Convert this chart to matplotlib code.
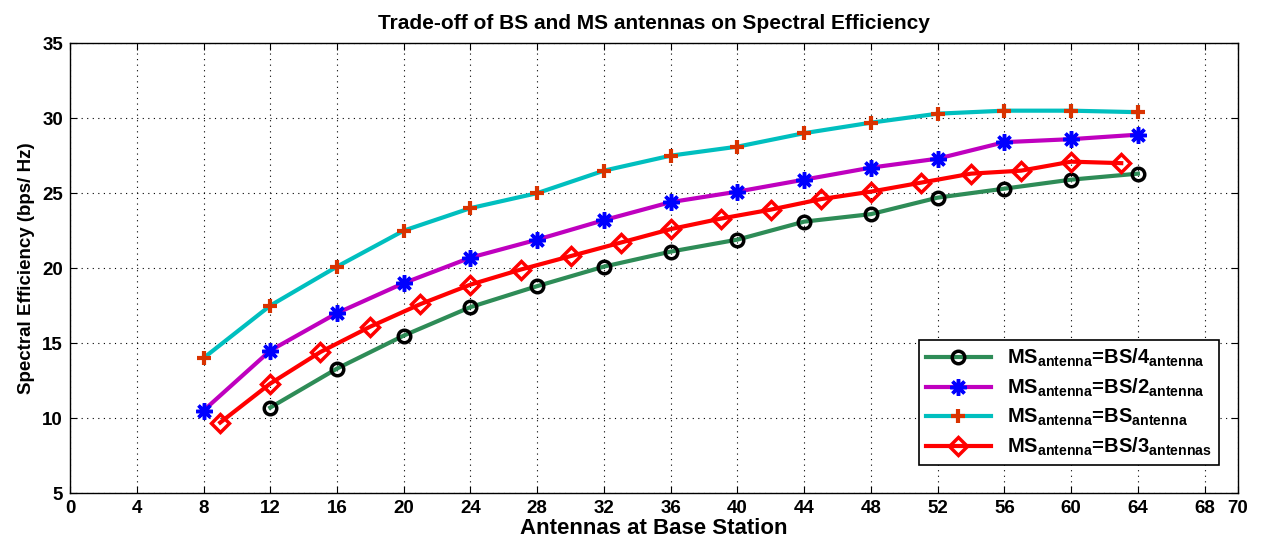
import numpy as np
import matplotlib
matplotlib.use("Agg")
import matplotlib.pyplot as plt

plt.rcParams['font.family'] = ['Liberation Sans', 'DejaVu Sans']
plt.rcParams['font.weight'] = 'bold'
plt.rcParams['mathtext.fontset'] = 'custom'
plt.rcParams['mathtext.rm'] = 'Liberation Sans:bold'
plt.rcParams['mathtext.bf'] = 'Liberation Sans:bold'

# BS/4
x_quarter = [12, 16, 20, 24, 28, 32, 36, 40, 44, 48, 52, 56, 60, 64]
se_quarter = [10.7, 13.3, 15.5, 17.4, 18.8, 20.1, 21.1, 21.9, 23.1, 23.6, 24.7, 25.3, 25.9, 26.3]

# BS/2
x_half = [8, 12, 16, 20, 24, 28, 32, 36, 40, 44, 48, 52, 56, 60, 64]
se_half = [10.5, 14.5, 17.0, 19.0, 20.7, 21.9, 23.2, 24.4, 25.1, 25.9, 26.7, 27.3, 28.4, 28.6, 28.9]

# BS
x_full = [8, 12, 16, 20, 24, 28, 32, 36, 40, 44, 48, 52, 56, 60, 64]
se_full = [14.0, 17.5, 20.1, 22.5, 24.0, 25.0, 26.5, 27.5, 28.1, 29.0, 29.7, 30.3, 30.5, 30.5, 30.4]

# BS/3
x_third = [9, 12, 15, 18, 21, 24, 27, 30, 33, 36, 39, 42, 45, 48, 51, 54, 57, 60, 63]
se_third = [9.7, 12.3, 14.4, 16.1, 17.6, 18.9, 19.9, 20.8, 21.7, 22.6, 23.3, 23.9, 24.6,
            25.1, 25.7, 26.3, 26.5, 27.1, 27.0]

xticks = [0, 4, 8, 12, 16, 20, 24, 28, 32, 36, 40, 44, 48, 52, 56, 60, 64, 68, 70]

fig = plt.figure(figsize=(12.62, 5.40), dpi=100)
ax = fig.add_axes([0.0555, 0.087, 0.9255, 0.833])

ax.plot(x_quarter, se_quarter, color=(0.18, 0.55, 0.34), lw=3, marker='o', ms=9,
        mfc='none', mec='black', mew=2.5,
        label=r'MS$_{\rm antenna}$=BS/4$_{\rm antenna}$')
ax.plot(x_half, se_half, color=(0.75, 0, 0.75), lw=3, marker=(8, 2, 0), ms=12,
        mec='blue', mfc='blue', mew=2.5,
        label=r'MS$_{\rm antenna}$=BS/2$_{\rm antenna}$')
ax.plot(x_full, se_full, color=(0, 0.75, 0.75), lw=3, marker='+', ms=10,
        mec=(0.85, 0.2, 0), mew=3,
        label=r'MS$_{\rm antenna}$=BS$_{\rm antenna}$')
ax.plot(x_third, se_third, color='red', lw=3, marker='D', ms=9,
        mfc='none', mec='red', mew=2.5,
        label=r'MS$_{\rm antenna}$=BS/3$_{\rm antennas}$')

ax.set_xlim(0, 70)
ax.set_ylim(5, 35)
ax.set_xticks(xticks)
ax.set_yticks(range(5, 36, 5))
ax.tick_params(direction='in', top=True, right=True, labelsize=13.5, length=5, pad=5)
ax.grid(True, color='black', linestyle=(0, (1, 4)), lw=0.8)
for s in ax.spines.values():
    s.set_linewidth(1.0)

ax.set_title('Trade-off of BS and MS antennas on Spectral Efficiency',
             fontsize=15, fontweight='bold', pad=10)
ax.set_xlabel('Antennas at Base Station', fontsize=16, fontweight='bold', labelpad=1)
ax.set_ylabel('Spectral Efficiency (bps/ Hz)', fontsize=13.5, fontweight='bold', labelpad=5)

leg = ax.legend(loc='lower right', bbox_to_anchor=(0.992, 0.04), fontsize=14.5,
                fancybox=False, framealpha=1, edgecolor='black',
                handlelength=3.2, borderpad=0.35, labelspacing=0.38)
leg.get_frame().set_linewidth(1.2)

fig.savefig('out.png', dpi=100)
